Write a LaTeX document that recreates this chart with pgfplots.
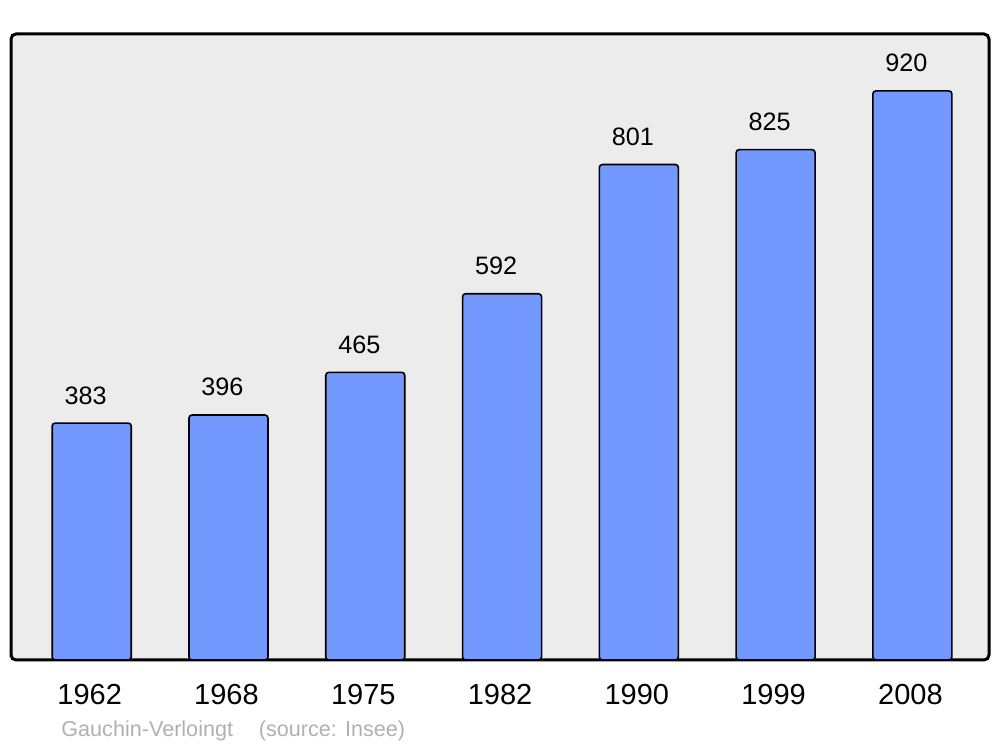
\documentclass[border=0pt]{standalone}
\usepackage{fontspec}
\setmainfont{Liberation Sans}
\usepackage{pgfplots}
\pgfplotsset{compat=1.18}
\definecolor{barblue}{HTML}{7399FF}
\definecolor{bggrey}{HTML}{ECECEC}
\definecolor{footgrey}{HTML}{B0B0B0}
\begin{document}
\begin{tikzpicture}
\useasboundingbox (-5.5pt,-43.5pt) rectangle (494.5pt,330pt);
\begin{axis}[
  at={(0pt,0pt)}, anchor=south west,
  scale only axis, width=489pt, height=313pt,
  xmin=-0.59, xmax=6.56, ymin=0, ymax=1012,
  ybar, bar width=39.5pt,
  xtick={0,1,2,3,4,5,6},
  xticklabels={1962,1968,1975,1982,1990,1999,2008},
  ytick=\empty,
  major tick length=0pt,
  /pgf/number format/assume math mode=true,
  xticklabel style={font=\fontsize{14.5}{16}\selectfont, inner sep=0pt, yshift=-12pt, xshift=-1pt},
  axis background/.style={fill=bggrey},
  axis line style={line width=1.5pt, rounded corners=2.5pt},
  nodes near coords,
  every node near coord/.append style={font=\fontsize{12.6}{14}\selectfont, inner sep=0pt, yshift=9pt, xshift=-3pt, black},
  clip=false,
]
\addplot[fill=barblue, draw=black, line width=0.8pt, rounded corners=1.5pt] coordinates {
(0,383) (1,396) (2,465) (3,592) (4,801) (5,825) (6,920)};
\end{axis}
\node[anchor=base west, inner sep=0pt, text=footgrey, font=\fontsize{10.8}{12}\selectfont] at (25pt,-38.5pt) {Gauchin-Verloingt\hspace{1.2em}(source: Insee)};
\end{tikzpicture}
\end{document}
